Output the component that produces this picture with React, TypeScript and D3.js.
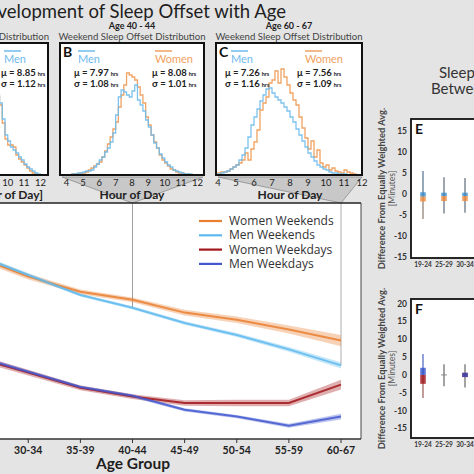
import React from 'react';
import * as d3 from 'd3';

// ---------- main panel data ----------
const AGE_GROUPS = ["19-24", "25-29", "30-34", "35-39", "40-44", "45-49", "50-54", "55-59", "60-67"];
const LINE_AGES = ["25-29", "30-34", "35-39", "40-44", "45-49", "50-54", "55-59", "60-67"];
const TICK_AGES = ["30-34", "35-39", "40-44", "45-49", "50-54", "55-59", "60-67"];
const womenWeekends = [8.62, 8.37, 8.18, 8.08, 7.92, 7.83, 7.71, 7.57];
const menWeekends = [8.64, 8.39, 8.14, 7.98, 7.79, 7.64, 7.46, 7.26];
const womenWeekdays = [7.355, 7.17, 6.98, 6.87, 6.79, 6.79, 6.79, 7.02];
const menWeekdays = [7.37, 7.18, 6.99, 6.88, 6.705, 6.62, 6.505, 6.62];
const ciWomenWeekends = [0.04, 0.035, 0.03, 0.03, 0.035, 0.04, 0.05, 0.07];
const ciMenWeekends = [0.03, 0.025, 0.02, 0.02, 0.022, 0.025, 0.03, 0.04];
const ciWomenWeekdays = [0.04, 0.035, 0.03, 0.03, 0.035, 0.04, 0.04, 0.06];
const ciMenWeekdays = [0.03, 0.02, 0.02, 0.02, 0.02, 0.02, 0.025, 0.035];
const LEGEND = ["Women Weekends", "Men Weekends", "Women Weekdays", "Men Weekdays"];

// ---------- histogram data (counts per 10-minute bin) ----------
const HIST_START = 4;
const BIN_HOURS = 1 / 6;
const HOUR_TICKS = [4, 5, 6, 7, 8, 9, 10, 11, 12];
const A_TICKS = [10, 11, 12];
const A_START = 9;
const menA = [95, 88, 80, 72, 56, 40, 34, 28, 25, 22, 18, 15, 11, 8, 6, 4, 2, 1];
const womenA = [92, 85, 78, 70, 52, 36, 30, 30, 28, 20, 16, 13, 10, 7, 4, 2, 1, 0];
const menB = [0, 0, 1, 1, 2, 2, 3, 4, 4, 5, 8, 11, 15, 18, 23, 27, 33, 42, 60, 78, 85, 83, 80, 78,
  84, 90, 75, 70, 64, 55, 48, 40, 32, 27, 21, 17, 13, 10, 8, 5, 4, 3, 2, 1, 1, 1, 0, 0];
const womenB = [0, 0, 1, 1, 1, 2, 2, 3, 5, 7, 9, 11, 13, 18, 24, 31, 38, 46, 53, 68, 80, 90, 102, 100,
  98, 95, 88, 80, 72, 58, 50, 40, 33, 27, 20, 15, 12, 9, 6, 5, 3, 2, 2, 1, 1, 0, 0, 0];
const menC = [1, 2, 3, 4, 6, 8, 10, 15, 20, 27, 38, 50, 58, 66, 74, 80, 86, 87, 82, 78, 75, 72, 68, 64,
  58, 53, 46, 40, 34, 28, 22, 18, 14, 10, 8, 6, 5, 3, 2, 2, 1, 1, 1, 0, 0, 0, 0, 0];
const womenC = [2, 3, 3, 4, 6, 8, 10, 12, 15, 22, 15, 26, 33, 45, 65, 72, 78, 92, 95, 104, 92, 106, 98, 90,
  82, 75, 70, 58, 47, 37, 26, 34, 18, 25, 12, 8, 10, 5, 7, 4, 3, 2, 5, 3, 2, 1, 0, 0];
const statsA = { men: ["8.85", "1.12"] };
const statsB = { men: ["7.97", "1.08"], women: ["8.08", "1.01"] };
const statsC = { men: ["7.26", "1.16"], women: ["7.56", "1.09"] };

// ---------- difference panels ----------
const DIFF_AGES = ["19-24", "25-29", "30-34"];
const E_TICKS = [15, 10, 5, 0, -5, -10, -15];
const F_TICKS = [20, 15, 10, 5, 0, -5, -10, -15];
const eWhisker = [[-6, 5.5], [-4.7, 4], [-4.5, 3.8]];
const eMenBox = [[-0.6, 0.4], [-0.5, 0.3], [-0.5, 0.3]];
const eWomenBox = [[-1.8, -0.6], [-1.7, -0.5], [-1.7, -0.5]];
const fWhisker = [[-6.5, 5.9], [-3.2, 3], [-3.5, 3]];
const fMenBox = [[0, 2], [0, 0], [-0.6, 0.6]];
const fWomenBox = [[-2.5, 0], [0, 0], [-0.6, 0.6]];

const C_WW = "#e97f30", C_MW = "#5db9ee", C_WD = "#a3161b", C_MD = "#4358cf";
const C_HM = "#6fbbec", C_HW = "#f0a263";
const FONT = "Lato, 'Open Sans', sans-serif";

function stepPath(xs: d3.ScaleLinear<number, number>, ys: d3.ScaleLinear<number, number>, start: number, vals: number[]) {
  const pts: [number, number][] = [[start, 0]];
  vals.forEach((v, i) => pts.push([start + i * BIN_HOURS, v]));
  const end = start + vals.length * BIN_HOURS;
  pts.push([end, vals[vals.length - 1]]);
  pts.push([end, 0]);
  return d3.line<[number, number]>().x(d => xs(d[0])).y(d => ys(d[1])).curve(d3.curveStepAfter)(pts) || "";
}

function Stat({ x, y, mu, sd }: { x: number; y: number; mu: string; sd: string }) {
  return (
    <g fontFamily={FONT} fontWeight={700} fill="#222" fontSize={9.5}>
      <text x={x} y={y}>{"\u03bc = " + mu}<tspan fontSize={5.5} dx={2}>hrs</tspan></text>
      <text x={x} y={y + 11}>{"\u03c3 = " + sd}<tspan fontSize={5.5} dx={2}>hrs</tspan></text>
    </g>
  );
}

function Hist({ id, box, domain, range, men, women, start, ageLabel, letter, hourLabel, legendPos, ticks }: any) {
  const xs = d3.scaleLinear().domain(domain).range(range);
  const ys = d3.scaleLinear().domain([0, 132]).range([175, 43]);
  const cx = (box[0] + box[1]) / 2;
  return (
    <g>
      {ageLabel && <text x={cx} y={29} textAnchor="middle" fontFamily={FONT} fontWeight={700} fontSize={9} fill="#222">{ageLabel}</text>}
      <text x={cx} y={40} textAnchor="middle" fontFamily={FONT} fontSize={9.6} fill="#444">Weekend Sleep Offset Distribution</text>
      <rect x={box[0]} y={43} width={box[1] - box[0]} height={132} fill="#fff" />
      <clipPath id={id}><rect x={box[0]} y={43} width={box[1] - box[0]} height={132} /></clipPath>
      <g clipPath={`url(#${id})`} fill="none" strokeWidth={1.3}>
        {women && <path d={stepPath(xs, ys, start, women)} stroke={C_HW} />}
        {men && <path d={stepPath(xs, ys, start, men)} stroke={C_HM} strokeOpacity={0.9} />}
      </g>
      <rect x={box[0]} y={43} width={box[1] - box[0]} height={132} fill="none" stroke="#111" strokeWidth={2} />
      {letter && <text x={box[0] + 3} y={57} fontFamily={FONT} fontSize={14} fontWeight={700} fill="#111">{letter}</text>}
      {legendPos.map((p: any) => (
        <g key={p.label}>
          <line x1={p.lx} x2={p.lx + 17} y1={51} y2={51} stroke={p.label === "Men" ? C_HM : C_HW} strokeWidth={1.5} />
          <text x={p.lx} y={63} fontFamily={FONT} fontSize={11} fill={p.label === "Men" ? C_HM : C_HW}>{p.label}</text>
          <Stat x={p.sx} y={76} mu={p.stats[0]} sd={p.stats[1]} />
        </g>
      ))}
      {ticks.map((t: number) => (
        <text key={t} x={xs(t)} y={186} textAnchor="middle" fontFamily={FONT} fontSize={9.5} fill="#222">{t}</text>
      ))}
      <text x={hourLabel[0]} y={198.5} textAnchor={hourLabel[1]} fontFamily={FONT} fontWeight={700} fontSize={12} fill="#222">{hourLabel[2]}</text>
    </g>
  );
}

function DiffPanel({ top, bottom, domain, ticks, letter, men, women, whisk, colors, xLabY }: any) {
  const xs = d3.scalePoint<string>().domain(DIFF_AGES).range([423, 465]);
  const ys = d3.scaleLinear().domain(domain).range([bottom, top]);
  const cy = (top + bottom) / 2;
  return (
    <g>
      <rect x={411} y={top} width={80} height={bottom - top} fill="#fff" stroke="#111" strokeWidth={1.8} />
      <text x={415} y={top + 15} fontFamily={FONT} fontSize={14} fontWeight={700} fill="#111">{letter}</text>
      {ticks.map((t: number) => (
        <text key={t} x={407} y={ys(t) + 3} textAnchor="end" fontFamily={FONT} fontWeight={700} fontSize={8.5} fill="#333">{t}</text>
      ))}
      {DIFF_AGES.map(a => (
        <text key={a} x={xs(a)} y={xLabY} textAnchor="middle" fontFamily={FONT} fontWeight={700} fontSize={6.5} fill="#333">{a}</text>
      ))}
      <text transform={`translate(385,${cy}) rotate(-90)`} textAnchor="middle" fontFamily={FONT} fontWeight={700} fontSize={9.3} fill="#444">Difference From Equally Weighted Avg.</text>
      <text transform={`translate(395,${cy}) rotate(-90)`} textAnchor="middle" fontFamily={FONT} fontSize={8.5} fill="#555">[Minutes]</text>
      {DIFF_AGES.map((a, i) => {
        const xc = xs(a) as number;
        return (
          <g key={a}>
            <line x1={xc} x2={xc} y1={ys(0)} y2={ys(whisk[i][1])} stroke={i === 0 ? colors.wm : colors.g} strokeWidth={1.2} />
            <line x1={xc} x2={xc} y1={ys(0)} y2={ys(whisk[i][0])} stroke={i === 0 ? colors.ww : colors.g} strokeWidth={1.2} />
            {men[i][1] - men[i][0] === 0 ?
              <line x1={xc - 3} x2={xc + 3} y1={ys(0)} y2={ys(0)} stroke="#777" strokeWidth={0.8} /> :
              <>
                <rect x={xc - 2.8} width={5.6} y={ys(women[i][1])} height={ys(women[i][0]) - ys(women[i][1])} fill={colors.w} opacity={0.8} />
                <rect x={xc - 2.8} width={5.6} y={ys(men[i][1])} height={ys(men[i][0]) - ys(men[i][1])} fill={colors.m} opacity={0.75} />
              </>}
          </g>
        );
      })}
    </g>
  );
}

export default function App() {
  const x = d3.scalePoint<string>().domain(AGE_GROUPS).range([-76, 341]);
  const y = d3.scaleLinear().domain([6.34, 9.29]).range([439, 203]);
  const line = d3.line<number>().x((_, i) => x(LINE_AGES[i]) as number).y(d => y(d));
  const band = (vals: number[], ci: number[]) =>
    d3.area<number>().x((_, i) => x(LINE_AGES[i]) as number).y0((d, i) => y(d - ci[i])).y1((d, i) => y(d + ci[i]))(vals) || "";
  const series = [
    { name: LEGEND[0], vals: womenWeekends, ci: ciWomenWeekends, c: C_WW },
    { name: LEGEND[1], vals: menWeekends, ci: ciMenWeekends, c: C_MW },
    { name: LEGEND[2], vals: womenWeekdays, ci: ciWomenWeekdays, c: C_WD },
    { name: LEGEND[3], vals: menWeekdays, ci: ciMenWeekdays, c: C_MD },
  ];
  const xB = x("40-44") as number;
  const xC = x("60-67") as number;
  return (
    <svg width={474} height={474} style={{ position: "absolute", left: 0, top: 0 }}>
      <rect width={474} height={474} fill="#e4e4e4" />
      <text x={286} y={18} textAnchor="end" fontFamily={FONT} fontSize={18.5} fill="#1e1e1e">Development of Sleep Offset with Age</text>

      {/* connectors */}
      <polygon points={`62,177 203,177 ${xB},203`} fill="#c8c8c8" stroke="#8c8c8c" strokeWidth={0.8} />
      <polygon points={`218,177 362,177 ${xC},203`} fill="#c8c8c8" stroke="#8c8c8c" strokeWidth={0.8} />

      <Hist id="ha" box={[-97, 48]} domain={[3.6, 12.4]} range={[-97, 47]} men={menA} women={womenA} start={A_START}
        ageLabel={null} letter={null} ticks={A_TICKS}
        hourLabel={[43, "end", "[Hour of Day]"]}
        legendPos={[{ label: "Men", lx: 4, sx: 1, stats: statsA.men }]} />
      <Hist id="hb" box={[60, 204]} domain={[3.6, 12.4]} range={[60, 204]} men={menB} women={womenB} start={HIST_START}
        ageLabel="Age 40 - 44" letter="B" ticks={HOUR_TICKS}
        hourLabel={[132, "middle", "Hour of Day"]}
        legendPos={[{ label: "Men", lx: 78, sx: 74, stats: statsB.men }, { label: "Women", lx: 155, sx: 152, stats: statsB.women }]} />
      <Hist id="hc" box={[216, 362]} domain={[4, 12]} range={[218, 362]} men={menC} women={womenC} start={HIST_START}
        ageLabel="Age 60 - 67" letter="C" ticks={HOUR_TICKS}
        hourLabel={[290, "middle", "Hour of Day"]}
        legendPos={[{ label: "Men", lx: 231, sx: 225, stats: statsC.men }, { label: "Women", lx: 305, sx: 297, stats: statsC.women }]} />

      {/* main panel */}
      <rect x={-130} y={203} width={491} height={236} fill="#fff" />
      <clipPath id="mainclip"><rect x={-130} y={203} width={491} height={236} /></clipPath>
      <g clipPath="url(#mainclip)">
        <line x1={xB} x2={xB} y1={203} y2={y(menWeekends[3])} stroke="#888" strokeWidth={0.8} />
        <line x1={xC} x2={xC} y1={203} y2={y(menWeekends[7])} stroke="#999" strokeWidth={0.8} />
        {series.map(s => <path key={s.name + "b"} d={band(s.vals, s.ci)} fill={s.c} opacity={0.35} />)}
        {series.map(s => <path key={s.name} d={line(s.vals) || ""} fill="none" stroke={s.c} strokeWidth={2} strokeOpacity={0.85} />)}
      </g>
      <line x1={0} x2={361} y1={203} y2={203} stroke="#222" strokeWidth={1.6} />
      <line x1={361} x2={361} y1={203} y2={439} stroke="#444" strokeWidth={1} />
      <line x1={0} x2={361} y1={439} y2={439} stroke="#333" strokeWidth={1.4} />
      {TICK_AGES.map(a => (
        <g key={a}>
          <line x1={x(a)} x2={x(a)} y1={439} y2={443} stroke="#333" strokeWidth={1} />
          <text x={x(a)} y={454} textAnchor="middle" fontFamily={FONT} fontWeight={700} fontSize={10.5} fill="#222">{a}</text>
        </g>
      ))}
      <text x={133} y={469} textAnchor="middle" fontFamily={FONT} fontWeight={700} fontSize={15.5} fill="#1e1e1e">Age Group</text>
      {series.map((s, i) => (
        <g key={s.name + "l"}>
          <line x1={199} x2={222} y1={221 + i * 14.3} y2={221 + i * 14.3} stroke={s.c} strokeWidth={2.2} />
          <text x={229} y={225 + i * 14.3} fontFamily="'Open Sans', sans-serif" fontSize={12} fill="#333">{s.name}</text>
        </g>
      ))}

      {/* right panels */}
      <text x={439} y={78} fontFamily={FONT} fontSize={15} fill="#333">Sleep</text>
      <text x={431} y={94} fontFamily={FONT} fontSize={15} fill="#333">Between</text>
      <DiffPanel top={119} bottom={258} domain={[-15.3, 17.9]} ticks={E_TICKS} letter="E"
        men={eMenBox} women={eWomenBox} whisk={eWhisker} xLabY={267}
        colors={{ m: "#2f86c8", w: "#f08a3c", wm: "#4f6f8c", ww: "#8a7a70", g: "#5d6b78" }} />
      <DiffPanel top={299} bottom={438} domain={[-17.7, 21.3]} ticks={F_TICKS} letter="F"
        men={fMenBox} women={fWomenBox} whisk={fWhisker} xLabY={447}
        colors={{ m: "#2a4cc8", w: "#a01418", wm: "#4a62c4", ww: "#9a5a55", g: "#666" }} />
    </svg>
  );
}
